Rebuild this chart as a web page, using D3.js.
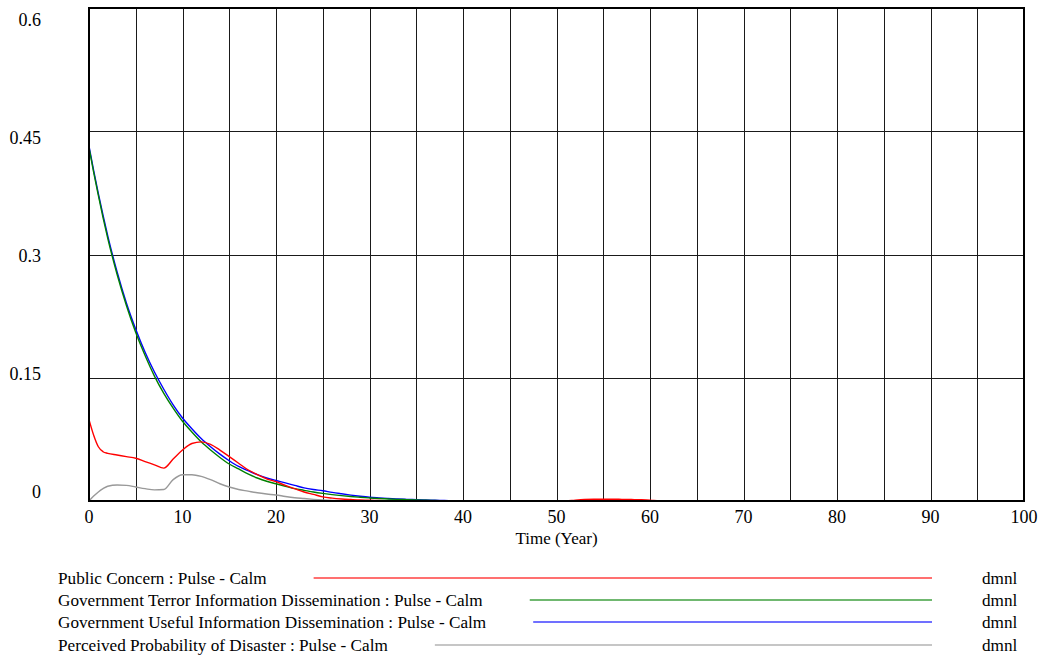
<!DOCTYPE html>
<html>
<head>
<meta charset="utf-8">
<script src="https://cdn.jsdelivr.net/npm/d3@7"></script>
<style>
  body { margin: 0; background: #fff; }
  text { font-family: "Liberation Serif", "Times New Roman", serif; fill: #000; }
</style>
</head>
<body>
<svg id="chart" width="1044" height="660"></svg>
<script>
// time axis (years)
const times = [0, 0.5, 1, 1.5, 2, 3, 4, 5, 6, 7, 8, 9, 10, 11, 12, 13, 14, 15, 16, 17, 18, 19, 20,
  21, 22, 23, 24, 25, 26, 27, 28, 29, 30, 31, 32, 33, 34, 35, 36, 37, 38, 39, 40,
  45, 50, 51, 52, 53, 54, 55, 56, 57, 58, 59, 60, 61, 65, 70, 75, 80, 85, 90, 95, 100];

const publicConcern = [0.099, 0.080, 0.066, 0.060, 0.058, 0.056, 0.054, 0.052, 0.048, 0.044, 0.040, 0.051, 0.062,
  0.070, 0.072, 0.069, 0.062, 0.054, 0.046, 0.038, 0.032, 0.027, 0.0235, 0.019, 0.015, 0.011, 0.008, 0.005,
  0.0035, 0.0025, 0.0018, 0.0012, 0.001, 0.0006, 0.0003, 0.0001, 0, 0, 0, 0, 0, 0, 0,
  0, 0, 0, 0.001, 0.0018, 0.0022, 0.0022, 0.0022, 0.002, 0.0018, 0.0015, 0.001, 0, 0, 0, 0, 0, 0, 0, 0, 0];

const govTerror = [0.430, 0.400, 0.372, 0.345, 0.320, 0.276, 0.238, 0.205, 0.177, 0.152, 0.131, 0.113, 0.097,
  0.084, 0.072, 0.062, 0.053, 0.045, 0.039, 0.033, 0.028, 0.024, 0.021, 0.018, 0.015, 0.013, 0.011, 0.0093,
  0.0078, 0.0065, 0.0054, 0.0045, 0.0037, 0.003, 0.0025, 0.002, 0.0016, 0.0012, 0.0009, 0.0006, 0.0004, 0.0002, 0,
  0, 0, 0, 0, 0, 0, 0, 0, 0, 0, 0, 0, 0, 0, 0, 0, 0, 0, 0, 0, 0];

const govUseful = [0.432, 0.402, 0.374, 0.348, 0.323, 0.279, 0.241, 0.209, 0.181, 0.157, 0.136, 0.117, 0.101,
  0.088, 0.076, 0.066, 0.057, 0.049, 0.042, 0.037, 0.032, 0.028, 0.025, 0.022, 0.019, 0.016, 0.014, 0.0125,
  0.0105, 0.0088, 0.0072, 0.0058, 0.0046, 0.0038, 0.0031, 0.0025, 0.002, 0.0016, 0.0012, 0.0009, 0.0006, 0.0003, 0,
  0, 0, 0, 0, 0, 0, 0, 0, 0, 0, 0, 0, 0, 0, 0, 0, 0, 0, 0, 0, 0];

const perceivedProb = [0, 0.006, 0.011, 0.015, 0.018, 0.0195, 0.019, 0.017, 0.015, 0.0135, 0.014, 0.026, 0.032,
  0.032, 0.030, 0.026, 0.021, 0.017, 0.014, 0.012, 0.010, 0.0085, 0.0073, 0.0055, 0.004, 0.003, 0.002, 0.0012,
  0.0006, 0.0002, 0, 0, 0, 0, 0, 0, 0, 0, 0, 0, 0, 0, 0,
  0, 0, 0, 0, 0, 0, 0, 0, 0, 0, 0, 0, 0, 0, 0, 0, 0, 0, 0, 0, 0];

const xTicks = [0, 10, 20, 30, 40, 50, 60, 70, 80, 90, 100];
const yTicks = [0.6, 0.45, 0.3, 0.15, 0];
const yTickLabels = ["0.6", "0.45", "0.3", "0.15", "0"];

const seriesNames = [
  "Public Concern : Pulse - Calm",
  "Government Terror Information Dissemination : Pulse - Calm",
  "Government Useful Information Dissemination : Pulse - Calm",
  "Perceived Probability of Disaster : Pulse - Calm"
];
const seriesValues = [publicConcern, govTerror, govUseful, perceivedProb];
const seriesColors = ["#ff0000", "#008000", "#0000ff", "#999999"];
const units = "dmnl";

// ---- layout
const svg = d3.select("#chart");
const plotLeft = 89, plotRight = 1024, plotTop = 8, plotBottom = 501;

const x = d3.scaleLinear().domain([0, 100]).range([plotLeft, plotRight]);
const y = d3.scaleLinear().domain([0, 0.6]).range([plotBottom, plotTop]);
// labels are spread a bit inside the frame like Vensim does
const yLab = d3.scaleLinear().domain([0.6, 0]).range([20, 492]);

// grid
const g = svg.append("g");
g.selectAll(".vgrid")
  .data(d3.range(5, 100, 5))
  .join("line")
  .attr("x1", d => Math.round(x(d)) + 0.5).attr("x2", d => Math.round(x(d)) + 0.5)
  .attr("y1", plotTop).attr("y2", plotBottom)
  .attr("stroke", "#1a1a1a").attr("stroke-width", 1);

g.selectAll(".hgrid")
  .data([0.15, 0.3, 0.45])
  .join("line")
  .attr("x1", plotLeft).attr("x2", plotRight)
  .attr("y1", d => Math.round(y(d)) + 0.5).attr("y2", d => Math.round(y(d)) + 0.5)
  .attr("stroke", "#1a1a1a").attr("stroke-width", 1);

// series
const line = d3.line()
  .x((d, i) => x(times[i]))
  .y(d => y(d))
  .curve(d3.curveMonotoneX);

const drawOrder = [2, 1, 3, 0];
drawOrder.forEach(k => {
  svg.append("path")
    .datum(seriesValues[k])
    .attr("d", line)
    .attr("fill", "none")
    .attr("stroke", seriesColors[k])
    .attr("stroke-width", 1.4);
});

// frame
svg.append("rect")
  .attr("x", plotLeft).attr("y", plotTop)
  .attr("width", plotRight - plotLeft).attr("height", plotBottom - plotTop)
  .attr("fill", "none").attr("stroke", "#000").attr("stroke-width", 2);

// y labels
svg.selectAll(".ylab")
  .data(yTicks)
  .join("text")
  .attr("x", 41)
  .attr("y", d => yLab(d))
  .attr("dy", "0.35em")
  .attr("text-anchor", "end")
  .attr("font-size", 18)
  .text((d, i) => yTickLabels[i]);

// x labels
svg.selectAll(".xlab")
  .data(xTicks)
  .join("text")
  .attr("x", d => x(d))
  .attr("y", 523)
  .attr("text-anchor", "middle")
  .attr("font-size", 18)
  .text(d => d);

svg.append("text")
  .attr("x", (plotLeft + plotRight) / 2)
  .attr("y", 544)
  .attr("text-anchor", "middle")
  .attr("font-size", 17)
  .text("Time (Year)");

// legend
const legendY = [584, 606, 628, 651];
seriesNames.forEach((name, i) => {
  const t = svg.append("text")
    .attr("x", 58)
    .attr("y", legendY[i])
    .attr("font-size", 17.2)
    .text(name);
  const w = t.node().getComputedTextLength();
  svg.append("line")
    .attr("x1", 58 + w + 47).attr("x2", 932)
    .attr("y1", legendY[i] - 6).attr("y2", legendY[i] - 6)
    .attr("stroke", seriesColors[i])
    .attr("stroke-opacity", 0.75)
    .attr("stroke-width", 1.3);
  svg.append("text")
    .attr("x", 982)
    .attr("y", legendY[i])
    .attr("font-size", 17.2)
    .text(units);
});
</script>
</body>
</html>
